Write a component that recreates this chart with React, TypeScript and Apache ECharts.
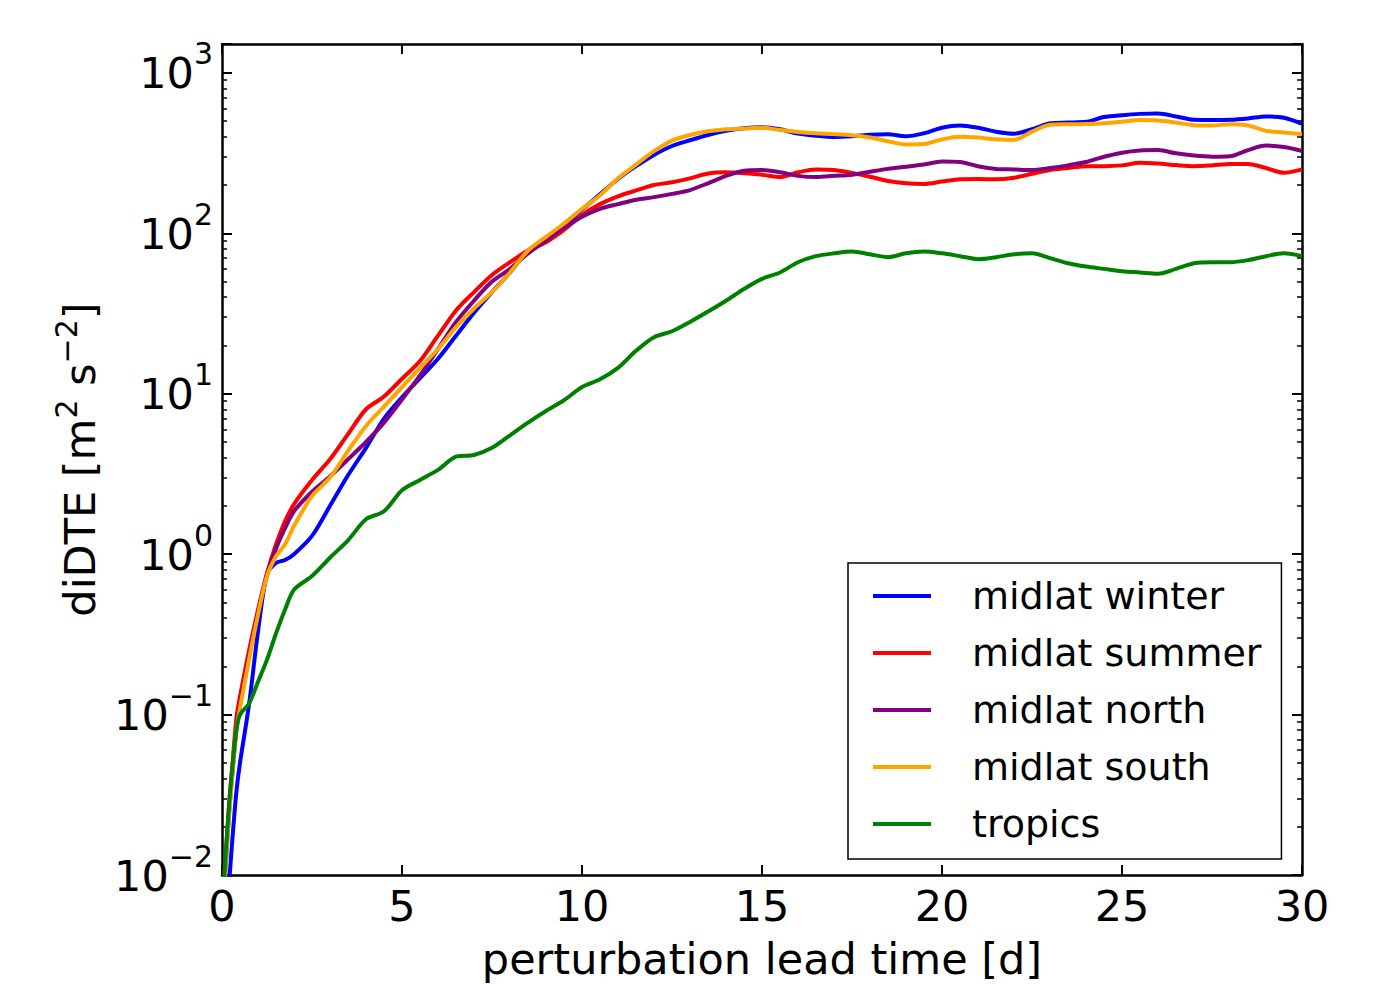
import React, { useEffect, useRef } from 'react';
import * as echarts from 'echarts';

const FONT = 'DejaVu Sans';

const DAYS = [
  0, 0.1, 0.2, 0.3, 0.4, 0.5, 0.75, 1, 1.25, 1.5, 1.75,
  2, 2.5, 3, 3.5, 4, 4.5, 5, 5.5, 6, 6.5,
  7, 7.5, 8, 8.5, 9, 9.5, 10, 10.5, 11, 11.5,
  12, 12.5, 13, 13.5, 14, 14.5, 15, 15.5, 16, 16.5,
  17, 17.5, 18, 18.5, 19, 19.5, 20, 20.5, 21, 21.5,
  22, 22.5, 23, 23.5, 24, 24.5, 25, 25.5, 26, 26.5,
  27, 27.5, 28, 28.5, 29, 29.5, 30,
];

const MIDLAT_WINTER = [
  0.0012, 0.004, 0.009, 0.018, 0.033, 0.05, 0.115, 0.33, 0.75, 0.88, 0.92,
  1.0, 1.3, 2.0, 3.1, 4.6, 7.0, 9.5, 12.5, 16.5, 23,
  32, 43, 57, 78, 92, 112, 140, 175, 218, 262,
  308, 350, 380, 410, 435, 452, 458, 445, 418, 405,
  398, 402, 412, 415, 402, 420, 455, 470, 455, 430,
  418, 445, 485, 490, 495, 530, 545, 555, 558, 535,
  510, 508, 510, 520, 535, 525, 482,
];

const MIDLAT_SUMMER = [
  0.006, 0.013, 0.028, 0.052, 0.095, 0.13, 0.25, 0.45, 0.76, 1.15, 1.6,
  2.05, 2.9, 3.9, 5.6, 8.0, 9.6, 12.4, 16, 23, 33,
  43, 55, 66, 78, 88, 105, 130, 152, 170, 185,
  200, 208, 220, 236, 240, 237, 232, 224, 240, 250,
  248, 238, 225, 212, 205, 203, 210, 217, 218, 217,
  222, 235, 248, 255, 262, 262, 265, 275, 272, 266,
  262, 265, 270, 270, 255, 238, 250,
];

const MIDLAT_NORTH = [
  0.005, 0.011, 0.025, 0.046, 0.08, 0.115, 0.23, 0.43, 0.74, 1.08, 1.45,
  1.85, 2.45, 3.05, 3.9, 5.0, 6.6, 9.2, 13, 19, 28,
  38, 50, 60, 75, 90, 108, 127, 142, 152, 162,
  168, 176, 186, 205, 228, 245, 248, 240, 228, 224,
  228, 232, 242, 252, 260, 268, 280, 278, 262, 252,
  250, 248, 255, 265, 278, 300, 318, 328, 330, 315,
  305, 300, 302, 330, 352, 345, 326,
];

const MIDLAT_SOUTH = [
  0.005, 0.011, 0.024, 0.045, 0.08, 0.11, 0.22, 0.42, 0.73, 0.97, 1.15,
  1.5, 2.3, 3.0, 4.4, 6.3, 8.3, 11, 14.5, 19, 26,
  34, 43, 57, 78, 95, 115, 142, 172, 220, 268,
  325, 378, 410, 432, 445, 450, 455, 440, 428, 420,
  415, 408, 395, 375, 358, 360, 385, 400, 395, 385,
  382, 430, 475, 478, 480, 485, 495, 508, 505, 490,
  472, 470, 478, 470, 435, 425, 415,
];

const TROPICS = [
  0.006, 0.013, 0.028, 0.05, 0.08, 0.1, 0.117, 0.16, 0.22, 0.32, 0.45,
  0.6, 0.73, 0.95, 1.22, 1.65, 1.85, 2.5, 2.9, 3.35, 4.05,
  4.15, 4.6, 5.5, 6.6, 7.8, 9.1, 11, 12.3, 14.5, 18.5,
  22.5, 24.5, 28, 32.5, 38, 45, 52, 57, 66, 72,
  75, 77, 74, 71, 75, 77, 75, 72, 69, 71,
  74, 75, 70, 65, 62, 60, 58, 57, 56, 60,
  65, 66, 66, 68, 72, 75, 72,
];

const SERIES_NAMES = ['midlat winter', 'midlat summer', 'midlat north', 'midlat south', 'tropics'];
const SERIES_VALUES = [MIDLAT_WINTER, MIDLAT_SUMMER, MIDLAT_NORTH, MIDLAT_SOUTH, TROPICS];
const SERIES_COLORS = ['#0000ff', '#ff0000', '#800080', '#ffa500', '#008000'];

const X_MIN = 0;
const X_MAX = 30;
const X_INTERVAL = 5;
const Y_MIN = 0.01;
const Y_MAX = 1513;
const DECADES = [-2, -1, 0, 1, 2, 3];
const MINOR_MULTIPLIERS = [2, 3, 4, 5, 6, 7, 8, 9];

const X_TITLE = 'perturbation lead time [d]';
const Y_TITLE = '{b|diDTE [m}{s|2}{b| s}{s|−2}{b|]}';

const MINOR_TICKS: number[] = [];
DECADES.forEach((e) => {
  MINOR_MULTIPLIERS.forEach((m) => {
    const v = m * Math.pow(10, e);
    if (v > Y_MIN && v < Y_MAX) MINOR_TICKS.push(Number(v.toPrecision(6)));
  });
});

const expText = (n: number) => (n < 0 ? '−' + Math.abs(n) : String(n));

const logLabel = (v: number) => {
  const e = Math.log10(v);
  const r = Math.round(e);
  if (Math.abs(e - r) > 1e-6) return '';
  return `{b|10}{e|${expText(r)}}`;
};

export default function App() {
  const ref = useRef<HTMLDivElement>(null);

  useEffect(() => {
    if (!ref.current) return;
    const chart = echarts.init(ref.current, undefined, { renderer: 'svg' });

    const axisLine = { show: true, lineStyle: { color: '#000', width: 2.5 } };
    const majorTick = { show: true, inside: true, length: 10, lineStyle: { color: '#000', width: 2 } };
    const minorTickCfg = {
      show: true,
      inside: true,
      length: 5,
      customValues: MINOR_TICKS,
      lineStyle: { color: '#000', width: 1.5 },
    };

    const yBase = {
      type: 'log' as const,
      logBase: 10,
      min: Y_MIN,
      max: Y_MAX,
      splitLine: { show: false },
    };

    const option: any = {
      animation: false,
      backgroundColor: '#fff',
      grid: { left: 222, right: 96, top: 44, bottom: 105, containLabel: false },
      xAxis: [
        {
          type: 'value',
          min: X_MIN,
          max: X_MAX,
          interval: X_INTERVAL,
          position: 'bottom',
          axisLine,
          axisTick: majorTick,
          splitLine: { show: false },
          axisLabel: {
            show: true,
            margin: 9,
            fontFamily: FONT,
            fontSize: 43,
            lineHeight: 43,
            color: '#000',
          },
          name: X_TITLE,
          nameLocation: 'middle',
          nameGap: 62,
          nameTextStyle: { fontFamily: FONT, fontSize: 43, lineHeight: 43, color: '#000' },
        },
        {
          type: 'value',
          min: X_MIN,
          max: X_MAX,
          interval: X_INTERVAL,
          position: 'top',
          axisLine,
          axisTick: majorTick,
          axisLabel: { show: false },
          splitLine: { show: false },
        },
      ],
      yAxis: [
        {
          ...yBase,
          position: 'left',
          axisLine,
          axisTick: majorTick,
          axisLabel: {
            show: true,
            margin: 9,
            padding: [0, 0, 12, 0],
            formatter: logLabel,
            rich: {
              b: { fontFamily: FONT, fontSize: 43, lineHeight: 56, verticalAlign: 'bottom', color: '#000' },
              e: { fontFamily: FONT, fontSize: 30, lineHeight: 30, verticalAlign: 'top', color: '#000' },
            },
          },
          name: Y_TITLE,
          nameLocation: 'middle',
          nameRotate: 90,
          nameGap: 121,
          nameTextStyle: {
            rich: {
              b: { fontFamily: FONT, fontSize: 43, lineHeight: 50, verticalAlign: 'bottom', color: '#000' },
              s: { fontFamily: FONT, fontSize: 30, lineHeight: 32, verticalAlign: 'top', color: '#000' },
            },
          },
        },
        {
          ...yBase,
          position: 'left',
          axisLine: { show: false },
          axisTick: minorTickCfg,
          axisLabel: { show: false },
        },
        {
          ...yBase,
          position: 'right',
          axisLine,
          axisTick: majorTick,
          axisLabel: { show: false },
        },
        {
          ...yBase,
          position: 'right',
          axisLine: { show: false },
          axisTick: minorTickCfg,
          axisLabel: { show: false },
        },
      ],
      legend: {
        orient: 'vertical',
        left: 848,
        top: 563,
        padding: [11, 20, 13, 25],
        itemGap: 13,
        itemWidth: 58,
        itemHeight: 4,
        icon: 'rect',
        borderColor: '#000',
        borderWidth: 1.5,
        borderRadius: 0,
        backgroundColor: '#fff',
        textStyle: {
          fontFamily: FONT,
          fontSize: 38,
          lineHeight: 44,
          color: '#000',
          padding: [0, 0, 0, 36],
        },
        data: SERIES_NAMES,
      },
      series: SERIES_NAMES.map((name, i) => ({
        name,
        type: 'line',
        xAxisIndex: 0,
        yAxisIndex: 0,
        showSymbol: false,
        symbol: 'none',
        smooth: 0.3,
        clip: true,
        color: SERIES_COLORS[i],
        lineStyle: { color: SERIES_COLORS[i], width: 4 },
        emphasis: { disabled: true },
        data: DAYS.map((d, j) => [d, SERIES_VALUES[i][j]]),
      })),
    };

    chart.setOption(option);
    return () => chart.dispose();
  }, []);

  return (
    <div
      ref={ref}
      style={{ position: 'absolute', left: 0, top: 0, width: 1398, height: 985, background: '#fff' }}
    />
  );
}
